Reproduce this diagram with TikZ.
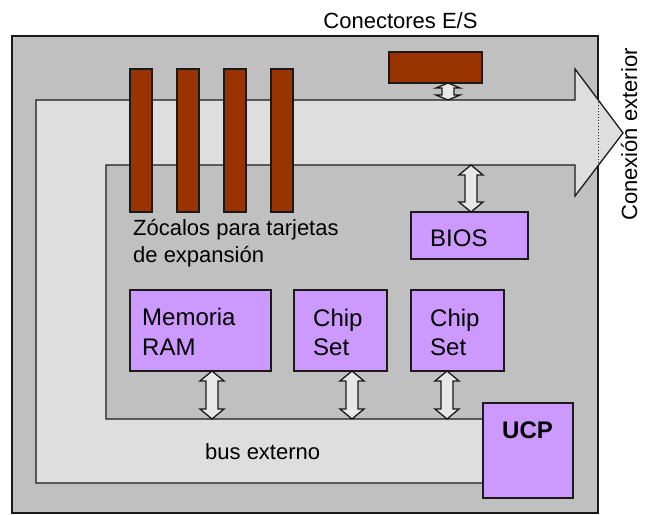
\documentclass[tikz,border=0pt]{standalone}
\usepackage{fontspec}
\setmainfont{Liberation Sans}
\usetikzlibrary{calc}
\definecolor{boardgray}{HTML}{C0C0C0}
\definecolor{busfill}{HTML}{DEDEDE}
\definecolor{arrfill}{HTML}{E8E8E8}
\definecolor{brownslot}{HTML}{993300}
\definecolor{chipfill}{HTML}{CC99FF}
\definecolor{edgecol}{HTML}{1A1A1A}
% double block arrow between two named points: top, bottom, head length
\newcommand{\busarrow}[3]{%
  \draw[dblarr] (#1) -- ++(12,#3) -- ++(-6,0) -- ($(#2)+(6,-#3)$) -- ++(6,0) -- (#2)
    -- ++(-12,-#3) -- ++(6,0) -- ($(#1)+(-6,#3)$) -- ++(-6,0) -- cycle;}
\begin{document}
\begin{tikzpicture}[x=1pt,y=-1pt,
  box/.style={draw=edgecol, line width=1.3pt, outer sep=0pt, inner sep=0pt, anchor=north west},
  boardbox/.style={box, fill=boardgray},
  slotbox/.style={box, fill=brownslot, minimum width=22pt, minimum height=143pt},
  chipbox/.style={box, fill=chipfill},
  dblarr/.style={draw=edgecol, line width=1.3pt, fill=arrfill, line join=miter},
  buspath/.style={draw=edgecol, line width=1.3pt, fill=busfill},
  lbl/.style={font=\fontsize{22}{26}\selectfont, inner sep=0pt, text=black},
  blbl/.style={font=\fontsize{24}{28}\selectfont, inner sep=0pt, text=black, anchor=base west}]
\useasboundingbox (0,0) rectangle (647,514);
% board
\node[boardbox, minimum width=586pt, minimum height=477pt] (board) at (12,36) {};
% bus
\coordinate (bustop) at (36,100);
\coordinate (businT) at (106,165);
\coordinate (businB) at (106,419);
\draw[buspath] (36,100) -- (575,100) -- (575,69) -- (623,133) -- (575,196) -- (575,165)
  -- (106,165) -- (106,419) -- (483,419) -- (483,483) -- (36,483) -- cycle;
\draw[edgecol, dotted, line width=1pt] (598,102) -- (598,163);
% expansion slots
\node[slotbox] (s1) at (130,69) {};
\node[slotbox] (s2) at (177,69) {};
\node[slotbox] (s3) at (224,69) {};
\node[slotbox] (s4) at (271,69) {};
% I/O connector
\node[box, fill=brownslot, minimum width=93pt, minimum height=31pt] (io) at (389,52) {};
% chips
\node[chipbox, minimum width=117pt, minimum height=47pt] (bios) at (411,212) {};
\node[chipbox, minimum width=141pt, minimum height=81pt] (ram) at (130,290) {};
\node[chipbox, minimum width=93pt, minimum height=81pt] (chipA) at (294,290) {};
\node[chipbox, minimum width=93pt, minimum height=81pt] (chipB) at (411,290) {};
% connectors
\coordinate (ioA) at ([xshift=12.5pt]io.south);
\coordinate (biosA) at ([xshift=1.5pt]bios.north);
\coordinate (ramA) at ([xshift=11.5pt]ram.south);
\coordinate (chipAa) at ([xshift=11.5pt]chipA.south);
\coordinate (chipBa) at ([xshift=-10.5pt]chipB.south);
\busarrow{ioA}{ioA |- bustop}{5}
\busarrow{biosA |- businT}{biosA}{10}
\busarrow{ramA}{ramA |- businB}{10}
\busarrow{chipAa}{chipAa |- businB}{10}
\busarrow{chipBa}{chipBa |- businB}{10}
% CPU
\node[chipbox, minimum width=90pt, minimum height=95pt] (ucp) at (483,403) {};
% labels
\node[lbl, anchor=base] (tio) at (400.5,28) {Conectores E/S};
\node[lbl, anchor=base west] (tz1) at (133,235) {Zócalos para tarjetas};
\node[lbl, anchor=base west] (tz2) at (133,262) {de expansión};
\node[blbl] (tbios) at (430,246) {BIOS};
\node[blbl] (tram1) at (142,325) {Memoria};
\node[blbl] (tram2) at (142,355) {RAM};
\node[blbl] (tca1) at (313,326) {Chip};
\node[blbl] (tca2) at (313,355) {Set};
\node[blbl] (tcb1) at (430,326) {Chip};
\node[blbl] (tcb2) at (430,355) {Set};
\node[blbl, font=\fontsize{24}{28}\selectfont\bfseries] (tucp) at (502,438) {UCP};
\node[lbl, anchor=base west] (tbus) at (205,459) {bus externo};
\node[lbl, anchor=base, rotate=90] (text) at (637,134.5) {Conexión exterior};
\end{tikzpicture}
\end{document}
